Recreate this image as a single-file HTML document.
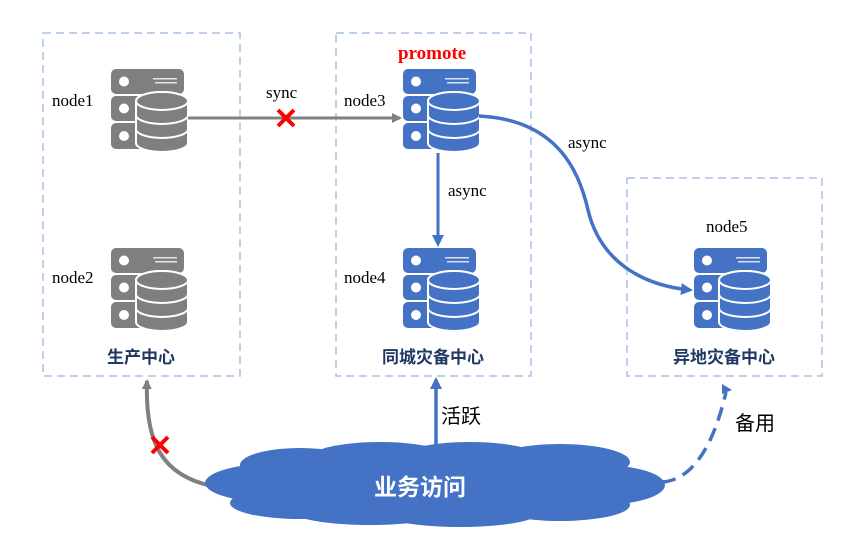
<!DOCTYPE html>
<html><head><meta charset="utf-8"><style>
body{margin:0;background:#fff;width:860px;height:545px;overflow:hidden}
</style></head><body>
<svg width="860" height="545" viewBox="0 0 860 545" xmlns="http://www.w3.org/2000/svg" font-family="'Liberation Serif','Noto Serif CJK SC',serif">
<defs>
<g id="srv">
 <rect x="0" y="0" width="73" height="25" rx="5"/>
 <rect x="0" y="27" width="73" height="25" rx="5"/>
 <rect x="0" y="54" width="73" height="26" rx="5"/>
 <circle cx="13" cy="12.5" r="5" fill="#fff"/>
 <circle cx="13" cy="39.5" r="5" fill="#fff"/>
 <circle cx="13" cy="67" r="5" fill="#fff"/>
 <g fill="#fff" opacity="0.8"><rect x="42" y="9" width="24" height="1.5"/><rect x="44" y="13" width="22" height="1.5"/></g>
 <g stroke="#fff" stroke-width="2">
 <path d="M25 32 v42 a26 9 0 0 0 52 0 v-42 a26 9 0 0 0 -52 0z"/>
 <ellipse cx="51" cy="32" rx="26" ry="9"/>
 <path d="M25 46 a26 9 0 0 0 52 0 M25 60 a26 9 0 0 0 52 0" fill="none"/>
 </g>
</g>
<marker id="ag" markerWidth="10" markerHeight="10" refX="8" refY="5" orient="auto" markerUnits="userSpaceOnUse"><path d="M0 0 L10 5 L0 10z" fill="#808080"/></marker>
<marker id="ab" markerWidth="12" markerHeight="12" refX="9" refY="6" orient="auto" markerUnits="userSpaceOnUse"><path d="M0 0 L12 6 L0 12z" fill="#4472c4"/></marker>
</defs>
<g fill="none" stroke="#a9c0e8" stroke-width="1.5" stroke-dasharray="8,5">
 <rect x="43" y="33" width="197" height="343"/>
 <rect x="336" y="33" width="195" height="343"/>
 <rect x="627" y="178" width="195" height="198"/>
</g>
<use href="#srv" x="111" y="69" fill="#7f7f7f"/>
<use href="#srv" x="111" y="248" fill="#7f7f7f"/>
<use href="#srv" x="403" y="69" fill="#4472c4"/>
<use href="#srv" x="403" y="248" fill="#4472c4"/>
<use href="#srv" x="694" y="248" fill="#4472c4"/>
<g font-size="17" fill="#000">
 <text x="52" y="106">node1</text><text x="52" y="283">node2</text>
 <text x="344" y="106">node3</text><text x="344" y="283">node4</text>
 <text x="706" y="232">node5</text>
 <text x="266" y="98">sync</text>
 <text x="448" y="196">async</text>
 <text x="568" y="148">async</text>
</g>
<text x="398" y="59" font-size="19" font-weight="bold" fill="#ff0000">promote</text>
<g font-family="'Liberation Sans','Noto Sans CJK SC',sans-serif" font-weight="bold" font-size="17" fill="#1f3864" text-anchor="middle">
 <text x="141" y="363">生产中心</text><text x="433" y="363">同城灾备中心</text><text x="724" y="363">异地灾备中心</text>
</g>
<line x1="188" y1="118" x2="400" y2="118" stroke="#808080" stroke-width="3" marker-end="url(#ag)"/>
<g stroke="#ff0000" stroke-width="4"><line x1="278" y1="110" x2="294" y2="126"/><line x1="294" y1="110" x2="278" y2="126"/></g>
<line x1="438" y1="153" x2="438" y2="244" stroke="#4472c4" stroke-width="3" marker-end="url(#ab)"/>
<path d="M479 116 C560 120 580 175 588 210 C600 260 640 285 690 290" fill="none" stroke="#4472c4" stroke-width="3.5" marker-end="url(#ab)"/>
<path d="M212 486 C160 475 145 440 147 381" fill="none" stroke="#808080" stroke-width="4" marker-end="url(#ag)"/>
<g stroke="#ff0000" stroke-width="4"><line x1="152" y1="437" x2="168" y2="453"/><line x1="168" y1="437" x2="152" y2="453"/></g>
<line x1="436" y1="450" x2="436" y2="380" stroke="#4472c4" stroke-width="3.5" marker-end="url(#ab)"/>
<path d="M662 482 C695 480 715 440 726 392" fill="none" stroke="#4472c4" stroke-width="3.5" stroke-dasharray="14,8"/>
<path d="M722 384 L732 390 L722 394z" fill="#4472c4"/>
<g font-family="'Liberation Sans','Noto Sans CJK SC',sans-serif" font-size="20" fill="#000">
 <text x="441" y="423">活跃</text><text x="735" y="430">备用</text>
</g>
<g fill="#4472c4">
 <ellipse cx="280" cy="483" rx="75" ry="20"/>
 <ellipse cx="300" cy="465" rx="60" ry="17"/>
 <ellipse cx="300" cy="503" rx="70" ry="16"/>
 <ellipse cx="380" cy="458" rx="70" ry="16"/>
 <ellipse cx="470" cy="458" rx="70" ry="16"/>
 <ellipse cx="560" cy="462" rx="70" ry="18"/>
 <ellipse cx="600" cy="485" rx="65" ry="20"/>
 <ellipse cx="560" cy="505" rx="70" ry="16"/>
 <ellipse cx="460" cy="512" rx="80" ry="15"/>
 <ellipse cx="370" cy="510" rx="80" ry="15"/>
 <ellipse cx="430" cy="485" rx="200" ry="28"/>
</g>
<text x="420" y="495" font-family="'Liberation Sans','Noto Sans CJK SC',sans-serif" font-weight="bold" font-size="23" fill="#fff" text-anchor="middle">业务访问</text>
</svg>
</body></html>
